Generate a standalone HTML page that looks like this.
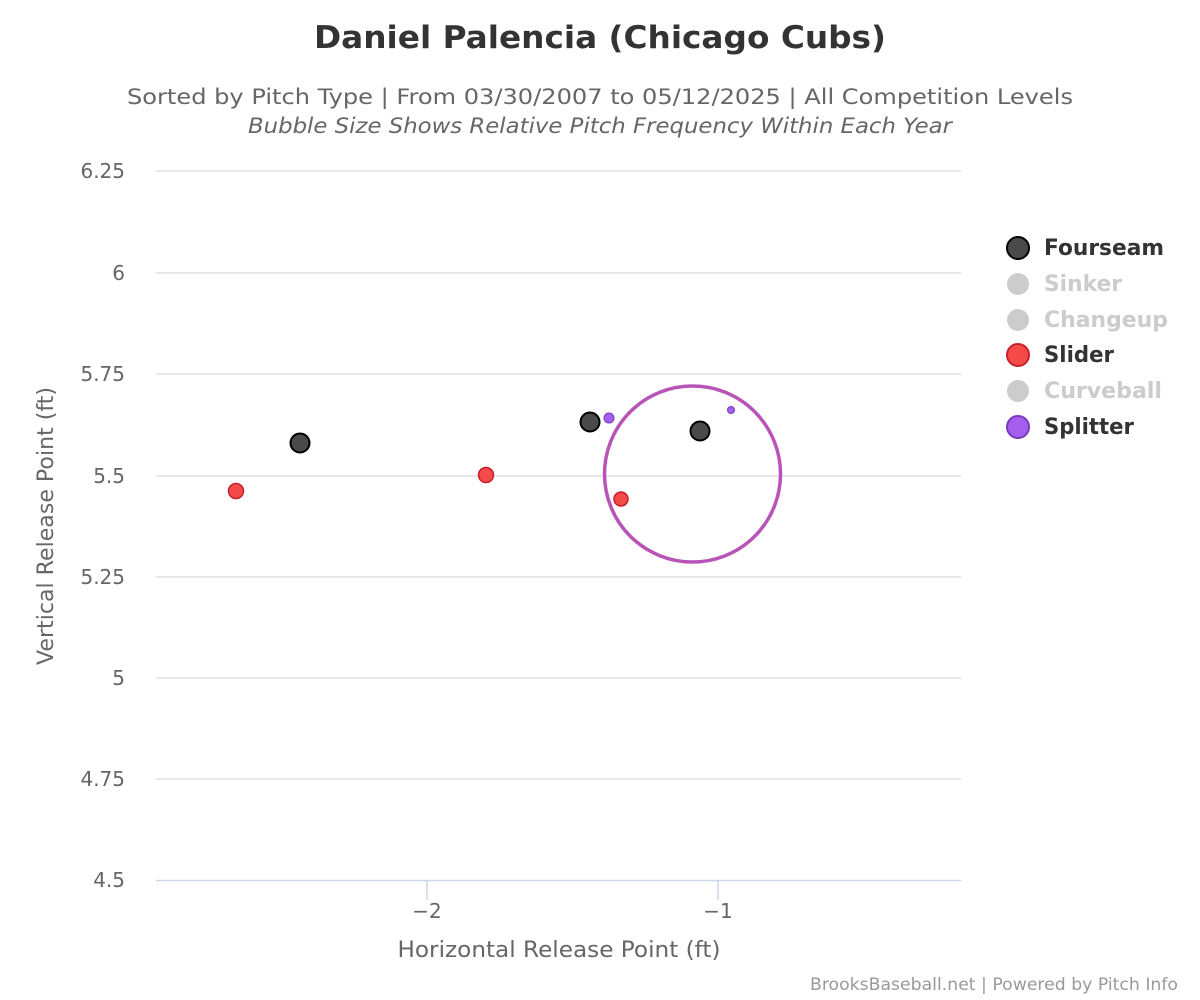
<!DOCTYPE html>
<html><head><meta charset="utf-8"><style>
html,body{margin:0;padding:0;background:#fff;}
svg{display:block;font-family:"DejaVu Sans","Liberation Sans",sans-serif;}
</style></head><body>
<svg width="1200" height="1000" xmlns="http://www.w3.org/2000/svg">
<rect width="1200" height="1000" fill="#fff"/>
<text x="600" y="48" text-anchor="middle" font-size="31" font-weight="bold" fill="#333" textLength="572" lengthAdjust="spacingAndGlyphs">Daniel Palencia (Chicago Cubs)</text>
<text x="600" y="104" text-anchor="middle" font-size="21" fill="#666" textLength="946" lengthAdjust="spacingAndGlyphs">Sorted by Pitch Type | From 03/30/2007 to 05/12/2025 | All Competition Levels</text>
<text x="600" y="133" text-anchor="middle" font-size="21" font-style="italic" fill="#666" textLength="704" lengthAdjust="spacingAndGlyphs">Bubble Size Shows Relative Pitch Frequency Within Each Year</text>
<g stroke="#e0e0e0" stroke-width="1.5">
<line x1="156" y1="171" x2="961" y2="171"/>
<line x1="156" y1="273" x2="961" y2="273"/>
<line x1="156" y1="374" x2="961" y2="374"/>
<line x1="156" y1="476" x2="961" y2="476"/>
<line x1="156" y1="577" x2="961" y2="577"/>
<line x1="156" y1="678" x2="961" y2="678"/>
<line x1="156" y1="779" x2="961" y2="779"/>
</g>
<line x1="156" y1="880.5" x2="961" y2="880.5" stroke="#ccd6eb" stroke-width="1.5"/>
<line x1="427" y1="881" x2="427" y2="900" stroke="#ccd6eb" stroke-width="1.5"/>
<line x1="718" y1="881" x2="718" y2="900" stroke="#ccd6eb" stroke-width="1.5"/>
<g font-size="20" fill="#666" text-anchor="end">
<text x="125" y="178">6.25</text>
<text x="125" y="280">6</text>
<text x="125" y="381">5.75</text>
<text x="125" y="483">5.5</text>
<text x="125" y="584">5.25</text>
<text x="125" y="685">5</text>
<text x="125" y="786">4.75</text>
<text x="125" y="887">4.5</text>
</g>
<g font-size="20" fill="#666" text-anchor="middle">
<text x="427" y="918">−2</text>
<text x="718" y="918">−1</text>
</g>
<text x="559" y="957" text-anchor="middle" font-size="22" fill="#666" textLength="323" lengthAdjust="spacingAndGlyphs">Horizontal Release Point (ft)</text>
<text transform="translate(53,526) rotate(-90)" text-anchor="middle" font-size="22" fill="#666" textLength="278" lengthAdjust="spacingAndGlyphs">Vertical Release Point (ft)</text>
<circle cx="692.5" cy="474" r="88" fill="none" stroke="#b854b8" stroke-width="3.5"/>
<g stroke="#000" stroke-width="2" fill="#4a4a4a">
<circle cx="300" cy="443" r="9.5"/>
<circle cx="590" cy="422" r="9.5"/>
<circle cx="700" cy="431" r="9.5"/>
</g>
<g stroke="#c8202a" stroke-width="1.5" fill="#f44a4a">
<circle cx="236" cy="491" r="7.5"/>
<circle cx="486" cy="475" r="7.5"/>
<circle cx="621" cy="499" r="7"/>
</g>
<g stroke="#7a3ab8" stroke-width="1" fill="#a45ff0">
<circle cx="609" cy="418" r="5"/>
<circle cx="731" cy="410" r="3.5"/>
</g>
<g font-size="22" font-weight="bold">
<circle cx="1018" cy="248" r="11" fill="#4a4a4a" stroke="#000" stroke-width="2"/>
<text x="1044" y="255" fill="#333" textLength="120" lengthAdjust="spacingAndGlyphs">Fourseam</text>
<circle cx="1018" cy="284" r="11" fill="#ccc"/>
<text x="1044" y="291" fill="#ccc" textLength="78" lengthAdjust="spacingAndGlyphs">Sinker</text>
<circle cx="1018" cy="320" r="11" fill="#ccc"/>
<text x="1044" y="327" fill="#ccc" textLength="124" lengthAdjust="spacingAndGlyphs">Changeup</text>
<circle cx="1018" cy="355" r="11" fill="#f44a4a" stroke="#c8202a" stroke-width="2"/>
<text x="1044" y="362" fill="#333" textLength="70" lengthAdjust="spacingAndGlyphs">Slider</text>
<circle cx="1018" cy="391" r="11" fill="#ccc"/>
<text x="1044" y="398" fill="#ccc" textLength="118" lengthAdjust="spacingAndGlyphs">Curveball</text>
<circle cx="1018" cy="427" r="11" fill="#a45ff0" stroke="#7a3ab8" stroke-width="2"/>
<text x="1044" y="434" fill="#333" textLength="90" lengthAdjust="spacingAndGlyphs">Splitter</text>
</g>
<text x="1178" y="990" text-anchor="end" font-size="17" fill="#999" textLength="368" lengthAdjust="spacingAndGlyphs">BrooksBaseball.net | Powered by Pitch Info</text>
</svg>
</body></html>
